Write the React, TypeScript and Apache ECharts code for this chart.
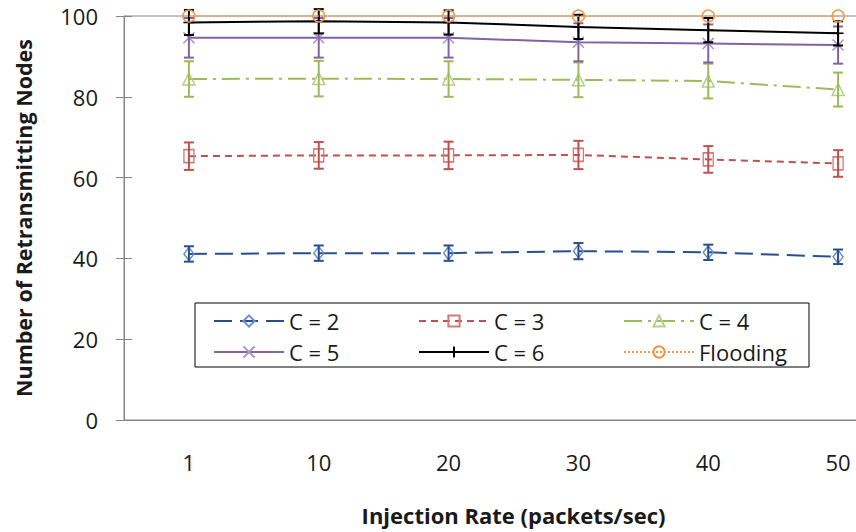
import React, { useEffect, useRef } from "react";
import * as echarts from "echarts";

const categories = ["1", "10", "20", "30", "40", "50"];
const seriesNames = ["C = 2", "C = 3", "C = 4", "C = 5", "C = 6", "Flooding"];
const c2 = [41.1, 41.3, 41.3, 41.8, 41.5, 40.4];
const c2Err = [1.9, 1.9, 1.9, 2.0, 1.9, 1.8];
const c3 = [65.3, 65.5, 65.5, 65.6, 64.5, 63.5];
const c3Err = [3.4, 3.3, 3.4, 3.5, 3.3, 3.3];
const c4 = [84.4, 84.5, 84.4, 84.2, 83.9, 81.8];
const c4Err = [4.4, 4.4, 4.4, 4.3, 4.3, 4.2];
const c5 = [94.6, 94.6, 94.6, 93.5, 93.2, 92.8];
const c5Err = [4.9, 4.9, 4.9, 4.7, 4.7, 4.6];
const c6 = [98.4, 98.7, 98.4, 97.3, 96.5, 95.7];
const c6Err = [3.1, 3.0, 3.0, 3.0, 3.0, 3.0];
const flooding = [100, 100, 100, 100, 100, 100];
const yTicks = { min: 0, max: 100, interval: 20 };

const FONT = "'Open Sans', 'Noto Sans', sans-serif";

const X_PATH = "path://M0 0 L10 10 M10 0 L0 10";
const PLUS_PATH = "path://M5 0 L5 10 M0 5 L10 5";

export default function App() {
  const ref = useRef<HTMLDivElement>(null);
  useEffect(() => {
    if (!ref.current) return;
    const chart = echarts.init(ref.current, null, { renderer: "svg" });

    const lineSeries = (
      name: string,
      data: number[],
      color: string,
      markColor: string,
      symbol: string,
      symbolSize: number | number[],
      dash: any,
      width = 2
    ) => ({
      type: "line",
      name,
      data,
      xAxisIndex: 0,
      yAxisIndex: 0,
      symbol,
      symbolSize,
      showAllSymbol: true,
      z: 3,
      lineStyle: { color, width, type: dash },
      itemStyle: { color: "rgba(255,255,255,0)", borderColor: markColor, borderWidth: 1.5 },
      emphasis: { disabled: true },
    });

    const errSeries = (name: string, vals: number[], errs: number[], color: string) => ({
      type: "custom",
      name,
      xAxisIndex: 0,
      yAxisIndex: 0,
      z: 4,
      silent: true,
      data: vals.map((v, i) => [i, v - errs[i], v + errs[i]]),
      renderItem: (params: any, api: any) => {
        const i = api.value(0);
        const lo = api.coord([i, api.value(1)]);
        const hi = api.coord([i, api.value(2)]);
        const w = 5;
        const st = { stroke: color, lineWidth: 2 };
        return {
          type: "group",
          children: [
            { type: "line", shape: { x1: lo[0], y1: lo[1], x2: hi[0], y2: hi[1] }, style: st },
            { type: "line", shape: { x1: lo[0] - w, y1: lo[1], x2: lo[0] + w, y2: lo[1] }, style: st },
            { type: "line", shape: { x1: hi[0] - w, y1: hi[1], x2: hi[0] + w, y2: hi[1] }, style: st },
          ],
        };
      },
    });

    const axisGray = "#868686";
    const textColor = "#1a1a1a";

    const legendLefts = [213, 418, 623];
    const legendTops = [310, 341];
    const legends = seriesNames.map((n, i) => ({
      orient: "horizontal",
      itemWidth: 70,
      itemHeight: 14,
      itemGap: 0,
      padding: 0,
      selectedMode: false,
      left: legendLefts[i % 3],
      top: legendTops[Math.floor(i / 3)],
      data: [n],
      textStyle: { fontFamily: FONT, fontSize: 22, color: textColor },
    }));

    chart.setOption({
      animation: false,
      backgroundColor: "#fff",
      grid: {
        left: 124,
        top: 16,
        right: -47,
        bottom: 112,
        outerBoundsMode: "none",
        containLabel: false,
        show: true,
        borderColor: axisGray,
        borderWidth: 1,
        backgroundColor: "rgba(0,0,0,0)",
      },
      legend: legends,
      graphic: [
        {
          type: "rect",
          shape: { x: 195, y: 303, width: 614, height: 64 },
          style: { fill: "#fff", stroke: "#000", lineWidth: 1 },
          z: 1,
        },
      ],
      xAxis: [
        {
          type: "category",
          data: categories,
          position: "bottom",
          boundaryGap: true,
          axisLine: { lineStyle: { color: axisGray, width: 1 } },
          axisTick: { inside: false, length: 8, lineStyle: { color: axisGray } },
          axisLabel: { fontFamily: FONT, fontSize: 22, color: textColor, margin: 31 },
          name: "Injection Rate (packets/sec)",
          nameLocation: "middle",
          nameGap: 84,
          nameTextStyle: { fontFamily: FONT, fontSize: 22, fontWeight: "bold", color: textColor },
          splitLine: { show: false },
        },
        {
          type: "category",
          data: categories,
          position: "bottom",
          boundaryGap: true,
          axisLine: { show: false },
          axisTick: { inside: true, length: 8, lineStyle: { color: axisGray } },
          axisLabel: { show: false },
          splitLine: { show: false },
        },
      ],
      yAxis: [
        {
          type: "value",
          position: "left",
          ...yTicks,
          axisLine: { show: true, lineStyle: { color: axisGray, width: 1 } },
          axisTick: { show: true, inside: false, length: 8, lineStyle: { color: axisGray } },
          axisLabel: { fontFamily: FONT, fontSize: 22, color: textColor, margin: 26 },
          splitLine: { show: false },
          name: "Number of Retransmitting Nodes",
          nameLocation: "middle",
          nameGap: 90,
          nameTextStyle: { fontFamily: FONT, fontSize: 21.5, fontWeight: "bold", color: textColor },
        },
        {
          type: "value",
          position: "left",
          ...yTicks,
          axisLine: { show: false },
          axisTick: { show: true, inside: true, length: 8, lineStyle: { color: axisGray } },
          axisLabel: { show: false },
          splitLine: { show: false },
        },
      ],
      series: [
        lineSeries("C = 2", c2, "#254F8E", "#6F8FC4", "diamond", [10, 13], [18, 8]),
        lineSeries("C = 3", c3, "#C0504D", "#D47A78", "rect", [10, 13], [7, 5]),
        lineSeries("C = 4", c4, "#9BBB59", "#B6CF88", "triangle", [12, 12], [18, 6, 3, 6]),
        lineSeries("C = 5", c5, "#8064A2", "#A892C4", X_PATH, [11, 11], "solid"),
        lineSeries("C = 6", c6, "#000000", "#000000", PLUS_PATH, [11, 11], "solid"),
        { ...lineSeries("Flooding", flooding, "#F79646", "#F79646", "circle", 12, [2, 2], 1.5), z: 6 },
        errSeries("e2", c2, c2Err, "#254F8E"),
        errSeries("e3", c3, c3Err, "#C0504D"),
        errSeries("e4", c4, c4Err, "#9BBB59"),
        errSeries("e5", c5, c5Err, "#8064A2"),
        errSeries("e6", c6, c6Err, "#000000"),
      ],
    });
    return () => chart.dispose();
  }, []);
  return (
    <div
      ref={ref}
      style={{ position: "fixed", left: 0, top: 0, width: 856, height: 532 }}
    />
  );
}
